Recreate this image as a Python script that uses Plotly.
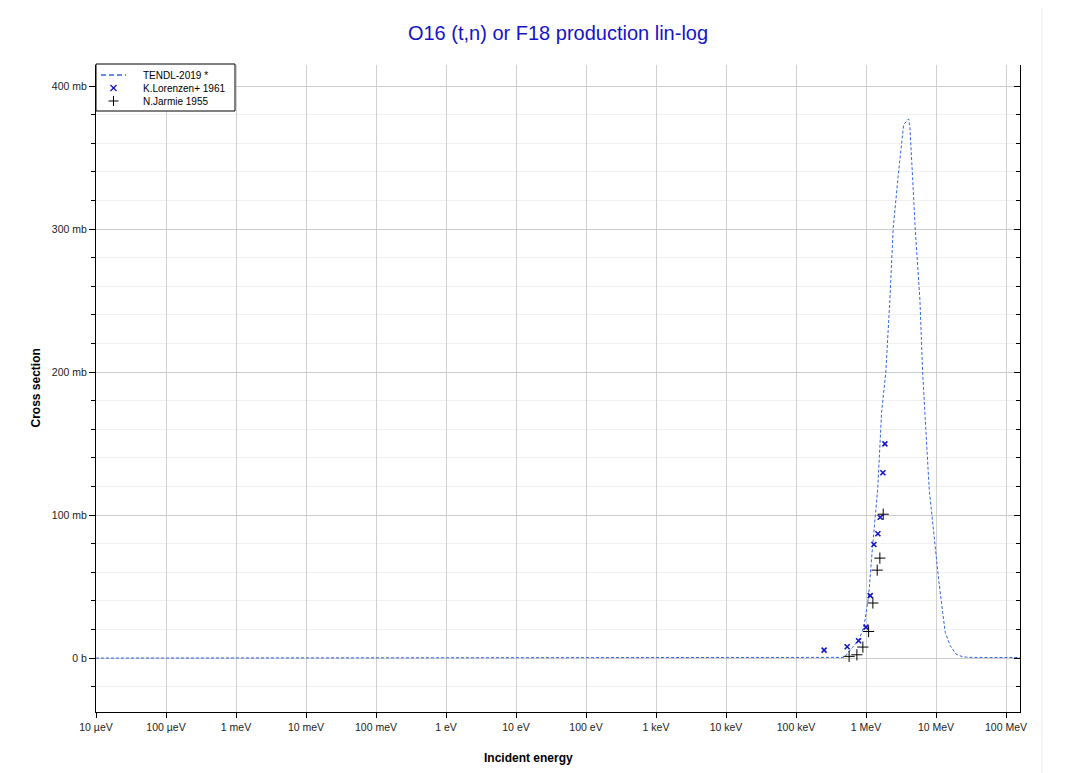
import plotly.graph_objects as go

# TENDL-2019 evaluated curve (energy in eV, cross section in mb)
tendl_E = [1e-5, 1e3, 1e5, 4.5e5, 4.9e5, 6.4e5, 8.0e5, 9.4e5, 1.09e6, 1.24e6, 1.35e6, 1.47e6,
           1.67e6, 1.92e6, 2.19e6, 2.45e6, 2.88e6, 3.45e6, 4.06e6, 4.24e6, 4.63e6, 5.05e6,
           5.9e6, 6.44e6, 8.0e6, 8.75e6, 9.66e6, 10.9e6, 12.45e6, 13.55e6, 16e6, 19.3e6,
           24e6, 30e6, 60e6, 200e6]
tendl_xs = [0, 0, 0, 0, 0.5, 7.4, 13.2, 22.5, 43.4, 78, 100, 118,
            172, 200, 250, 301, 337, 373, 377, 371, 336, 300,
            250, 200, 118, 100, 78, 55, 32, 18, 8.6, 2.8,
            0.9, 0.5, 0.4, 0.4]

# K.Lorenzen+ 1961
lor_E = [2.52e5, 5.38e5, 7.84e5, 1.0e6, 1.148e6, 1.297e6, 1.479e6, 1.596e6, 1.743e6, 1.862e6]
lor_xs = [5.6, 7.9, 12.1, 21.6, 43.7, 79.4, 86.9, 98.5, 129.6, 149.8]

# N.Jarmie 1955
jar_E = [5.74e5, 7.41e5, 9.02e5, 1.089e6, 1.254e6, 1.445e6, 1.578e6, 1.762e6]
jar_xs = [1.2, 2.3, 7.7, 18.6, 38.5, 61.5, 69.9, 100.6]

x_tickvals = [1e-5, 1e-4, 1e-3, 1e-2, 1e-1, 1, 10, 100, 1e3, 1e4, 1e5, 1e6, 1e7, 1e8]
x_ticktext = ["10 µeV", "100 µeV", "1 meV", "10 meV", "100 meV", "1 eV", "10 eV", "100 eV",
              "1 keV", "10 keV", "100 keV", "1 MeV", "10 MeV", "100 MeV"]
y_tickvals = [0, 100, 200, 300, 400]
y_ticktext = ["0 b", "100 mb", "200 mb", "300 mb", "400 mb"]

legend_names = ["TENDL-2019 *", "K.Lorenzen+ 1961", "N.Jarmie 1955"]

y_range = [-37.7, 414.7]
BLUE_LINE = "rgb(50,100,230)"
BLUE_MARK = "rgb(20,20,200)"

fig = go.Figure()
fig.add_trace(go.Scatter(x=tendl_E, y=tendl_xs, mode="lines", name=legend_names[0],
                         line=dict(color=BLUE_LINE, width=1, dash="3px,2px")))
fig.add_trace(go.Scatter(x=lor_E, y=lor_xs, mode="markers", name=legend_names[1],
                         marker=dict(symbol="x-thin-open", size=5, color=BLUE_MARK,
                                     line=dict(width=1.6, color=BLUE_MARK))))
fig.add_trace(go.Scatter(x=jar_E, y=jar_xs, mode="markers", name=legend_names[2],
                         marker=dict(symbol="cross-thin-open", size=8, color="black",
                                     line=dict(width=1, color="black"))))
fig.add_trace(go.Scatter(x=[1e-5], y=[0], yaxis="y2", mode="markers", showlegend=False,
                         hoverinfo="skip", marker=dict(opacity=0)))

fig.update_layout(
    width=1067, height=773,
    margin=dict(l=88, r=55, t=57, b=69),
    paper_bgcolor="white", plot_bgcolor="white",
    font=dict(family="Arial, Liberation Sans, sans-serif", size=10.5, color="#222"),
    title=dict(text="O16 (t,n) or F18 production lin-log", x=0.5, xref="paper",
               y=1 - 25 / 773, yanchor="middle",
               font=dict(size=20, color=BLUE_MARK)),
    showlegend=False,
    xaxis=dict(type="log", range=[-5, 8.2], tickvals=x_tickvals, ticktext=x_ticktext,
               showgrid=True, gridcolor="#d0d0d0", gridwidth=1,
               showline=True, linecolor="black", linewidth=1,
               ticks="outside", ticklen=5, tickcolor="black", zeroline=False,
               tickfont=dict(size=10.5, color="#222")),
    yaxis=dict(range=y_range, tickvals=y_tickvals, ticktext=y_ticktext,
               showgrid=True, gridcolor="#cccccc", gridwidth=1,
               showline=True, linecolor="black", linewidth=1,
               ticks="outside", ticklen=6, tickcolor="black", zeroline=False,
               tickfont=dict(size=10.5, color="#222"),
               minor=dict(dtick=20, tick0=0, showgrid=True, gridcolor="#f0f0f0",
                          ticks="outside", ticklen=4, tickcolor="black")),
    yaxis2=dict(range=y_range, overlaying="y", side="right", tickvals=y_tickvals,
                showticklabels=False, showgrid=False, zeroline=False,
                showline=True, linecolor="black", linewidth=1,
                ticks="inside", ticklen=6, tickcolor="black",
                minor=dict(dtick=20, tick0=0, showgrid=False, ticks="inside",
                           ticklen=4, tickcolor="black")),
)

fig.add_annotation(text="<b>Cross section</b>", xref="paper", yref="paper",
                   x=-0.066, y=0.5, xanchor="center", yanchor="middle",
                   textangle=-90, showarrow=False,
                   font=dict(size=12, color="black"))
fig.add_annotation(text="<b>Incident energy</b>", xref="paper", yref="paper",
                   x=0.4686, y=-0.071, showarrow=False, xanchor="center", yanchor="middle",
                   font=dict(size=12, color="black"))

# compact legend box (plot area: 924 x 647 px)
def px(xp):
    return (xp - 96) / 924


def py(yp):
    return (712 - yp) / 647


def seg(x0, y0, x1, y1, color, width, dash=None):
    line = dict(color=color, width=width)
    if dash:
        line["dash"] = dash
    fig.add_shape(type="line", xref="paper", yref="paper", x0=px(x0), x1=px(x1),
                  y0=py(y0), y1=py(y1), line=line, layer="above")


fig.add_shape(type="rect", xref="paper", yref="paper", x0=px(96), x1=px(235),
              y0=py(111), y1=py(64), fillcolor="white", line=dict(color="black", width=1),
              layer="above")
seg(101, 75, 126, 75, BLUE_LINE, 1.5, "5px,3px")
seg(110.5, 85, 116.5, 91, BLUE_MARK, 1.2)
seg(110.5, 91, 116.5, 85, BLUE_MARK, 1.2)
seg(108.5, 101, 118.5, 101, "black", 1)
seg(113.5, 96, 113.5, 106, "black", 1)
for name, yy in zip(legend_names, [75, 88, 101]):
    fig.add_annotation(text=name, xref="paper", yref="paper", x=px(141), y=py(yy),
                       xanchor="left", yanchor="middle", showarrow=False,
                       font=dict(size=10, color="black"))

# faint outer container border (top and right)
fig.add_shape(type="line", xref="paper", yref="paper", x0=-0.2, x1=px(1042),
              y0=py(5), y1=py(5), line=dict(color="#e8e8e8", width=1))
fig.add_shape(type="line", xref="paper", yref="paper", x0=px(1042), x1=px(1042),
              y0=-0.2, y1=py(5), line=dict(color="#e8e8e8", width=1))

fig.write_html("out.html")
